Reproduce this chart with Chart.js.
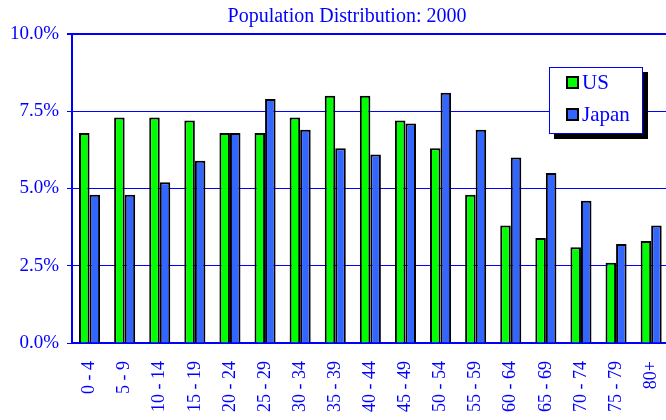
<!DOCTYPE html>
<html>
<head>
<meta charset="utf-8">
<script src="https://cdn.jsdelivr.net/npm/chart.js@4/dist/chart.umd.min.js"></script>
<style>
  body { margin: 0; overflow: hidden; background: #fff; }
  #wrap { width: 691px; height: 420px; }
</style>
</head>
<body>
<div id="wrap"><canvas id="popChart"></canvas></div>
<script>
// Data
const ageGroups = ["0 - 4", "5 - 9", "10 - 14", "15 - 19", "20 - 24", "25 - 29", "30 - 34", "35 - 39",
    "40 - 44", "45 - 49", "50 - 54", "55 - 59", "60 - 64", "65 - 69", "70 - 74", "75 - 79", "80+"];
const usValues = [6.8, 7.3, 7.3, 7.2, 6.8, 6.8, 7.3, 8.0, 8.0, 7.2, 6.3, 4.8, 3.8, 3.4, 3.1, 2.6, 3.3];
const japanValues = [4.8, 4.8, 5.2, 5.9, 6.8, 7.9, 6.9, 6.3, 6.1, 7.1, 8.1, 6.9, 6.0, 5.5, 4.6, 3.2, 3.8];
const titleText = "Population Distribution: 2000";

const blue = "#0000ff";
const serif = "'Liberation Serif', 'DejaVu Serif', serif";

//Otsikko ja selite piirretään itse
const extrasPlugin = {
    id: "extras",
    afterDraw(chart) {
        const ctx = chart.ctx;
        const area = chart.chartArea;
        ctx.save();
        ctx.fillStyle = blue;
        ctx.font = "20px " + serif;
        ctx.textAlign = "center";
        ctx.textBaseline = "middle";
        ctx.fillText(titleText, 347, 17);

        // selite
        const lx = area.left + 477, ly = 67, lw = 94, lh = 67;
        ctx.fillStyle = "#000";
        ctx.fillRect(lx + 5, ly + 5, lw, lh);
        ctx.fillStyle = "#fff";
        ctx.fillRect(lx, ly, lw, lh);
        ctx.strokeStyle = blue;
        ctx.lineWidth = 1;
        ctx.strokeRect(lx + 0.5, ly + 0.5, lw - 1, lh - 1);
        ctx.textAlign = "left";
        ctx.font = "21px " + serif;
        chart.data.datasets.forEach((ds, i) => {
            const y = ly + 15 + i * 32;
            ctx.fillStyle = ds.backgroundColor;
            ctx.fillRect(lx + 18, y - 5, 11, 11);
            ctx.strokeStyle = "#000";
            ctx.lineWidth = 2;
            ctx.strokeRect(lx + 18, y - 5, 11, 11);
            ctx.fillStyle = blue;
            ctx.fillText(ds.label, lx + 33, y + 1);
        });
        ctx.restore();
    }
};

new Chart(document.getElementById("popChart"), {
    type: "bar",
    data: {
        labels: ageGroups,
        datasets: [
            { label: "US", data: usValues, backgroundColor: "#00ff00", borderColor: "#000", borderWidth: 2 },
            { label: "Japan", data: japanValues, backgroundColor: "#3366ff", borderColor: "#000", borderWidth: 2 }
        ]
    },
    options: {
        responsive: true,
        maintainAspectRatio: false,
        animation: false,
        categoryPercentage: 0.6,
        barPercentage: 1,
        layout: { padding: { top: 34, right: 8, left: 0, bottom: 0 } },
        plugins: {
            legend: { display: false },
            title: { display: false },
            tooltip: { enabled: false }
        },
        scales: {
            x: {
                grid: { display: false, drawTicks: false },
                border: { display: true, color: blue, width: 2 },
                ticks: {
                    color: blue,
                    font: { family: serif, size: 18 },
                    minRotation: 90,
                    maxRotation: 90,
                    padding: 18,
                    autoSkip: false
                },
                afterFit(scale) { scale.height = 77; }
            },
            y: {
                min: 0,
                max: 10,
                ticks: {
                    stepSize: 2.5,
                    color: blue,
                    font: { family: serif, size: 19 },
                    padding: 8,
                    callback: v => v.toFixed(1) + "%"
                },
                grid: {
                    color: blue,
                    lineWidth: c => (c.tick && c.tick.value === 10 ? 2 : 1),
                    tickLength: 5,
                    tickColor: blue
                },
                border: { display: true, color: blue, width: 2 },
                afterFit(scale) { scale.width = 72; }
            }
        }
    },
    plugins: [extrasPlugin]
});
</script>
</body>
</html>
